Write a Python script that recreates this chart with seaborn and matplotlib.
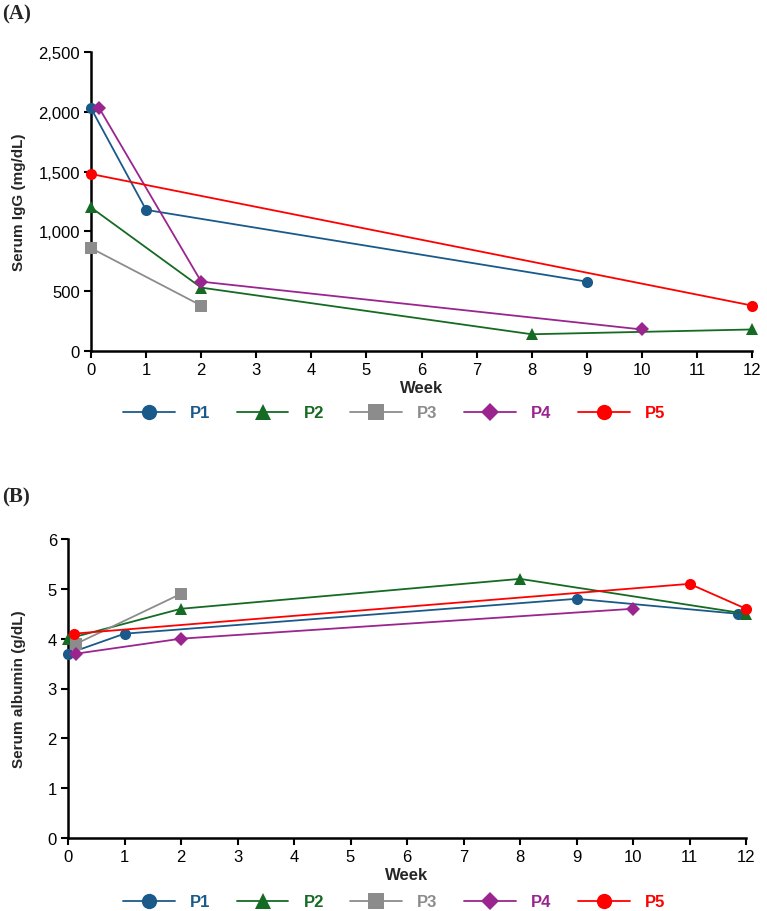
import matplotlib
matplotlib.use("Agg")
import matplotlib.pyplot as plt
import seaborn as sns
import pandas as pd
from matplotlib.lines import Line2D

patients = ["P1", "P2", "P3", "P4", "P5"]
colors = ["#1A5A8A", "#156B23", "#8C8C8C", "#9A258F", "#FF0000"]
markers = ["o", "^", "s", "D", "o"]

# Panel A: serum IgG (mg/dL)
igg_weeks = {
    "P1": [0, 1, 9],
    "P2": [0, 2, 8, 12],
    "P3": [0, 2],
    "P4": [0.15, 2, 10],
    "P5": [0, 12],
}
igg_values = {
    "P1": [2030, 1180, 580],
    "P2": [1200, 530, 140, 180],
    "P3": [860, 380],
    "P4": [2030, 580, 180],
    "P5": [1480, 380],
}

# Panel B: serum albumin (g/dL)
alb_weeks = {
    "P1": [0, 1, 9, 11.85],
    "P2": [0, 2, 8, 12],
    "P3": [0.15, 2],
    "P4": [0.15, 2, 10],
    "P5": [0.1, 11, 12],
}
alb_values = {
    "P1": [3.7, 4.1, 4.8, 4.5],
    "P2": [4.0, 4.6, 5.2, 4.5],
    "P3": [3.9, 4.9],
    "P4": [3.7, 4.0, 4.6],
    "P5": [4.1, 5.1, 4.6],
}

sns.set_theme(style="white")
plt.rcParams["font.family"] = ["Liberation Sans", "DejaVu Sans"]


def make_df(weeks, values):
    rows = []
    for p in patients:
        for i, (w, v) in enumerate(zip(weeks[p], values[p])):
            rows.append({"patient": p, "week": w, "value": v, "order": i})
    return pd.DataFrame(rows)


fig = plt.figure(figsize=(7.67, 9.12), dpi=100)
W, H = 767, 912
axA = fig.add_axes([91 / W, 1 - 352 / H, (752 - 91) / W, (352 - 53) / H])
axB = fig.add_axes([68 / W, 1 - 839 / H, (746 - 68) / W, (839 - 540) / H])

palette = dict(zip(patients, colors))
mk = dict(zip(patients, markers))


def draw(ax, df, ylabel, ylim, yticks, yfmt, leg_y, ylab_x):
    for p in patients:
        sub = df[df.patient == p]
        sns.lineplot(data=sub, x="week", y="value", color=palette[p], marker=mk[p],
                     markersize=8 if mk[p] != "D" else 7, markeredgewidth=0,
                     linewidth=1.3, sort=False, ax=ax, legend=False, zorder=3)
    ax.set_xlim(0, 12)
    ax.set_ylim(*ylim)
    ax.set_xticks(range(0, 13))
    ax.set_yticks(yticks)
    ax.set_yticklabels([yfmt(v) for v in yticks])
    ax.set_xlabel("Week", fontsize=12, fontweight="bold", labelpad=2)
    ax.set_ylabel(ylabel, fontsize=11, fontweight="bold")
    ax.yaxis.set_label_coords(ylab_x, 0.5)
    for s in ["top", "right"]:
        ax.spines[s].set_visible(False)
    for s in ["left", "bottom"]:
        ax.spines[s].set_color("black")
        ax.spines[s].set_linewidth(1.8)
    ax.tick_params(axis="both", which="major", direction="out", length=5, width=1.5,
                   color="black", labelsize=12, labelcolor="black", pad=3,
                   bottom=True, left=True)
    handles = [Line2D([0], [0], color=palette[p], marker=mk[p], linewidth=1.3,
                      markersize=11 if mk[p] != "D" else 9.5, markeredgewidth=0)
               for p in patients]
    leg = fig.legend(handles, patients, loc="center", bbox_to_anchor=(394 / W, 1 - leg_y / H),
                     ncol=5, frameon=False, handlelength=3.1, handletextpad=0.9,
                     columnspacing=1.6, prop={"size": 12, "weight": "bold"})
    for t, c in zip(leg.get_texts(), colors):
        t.set_color(c)


dfA = make_df(igg_weeks, igg_values)
dfB = make_df(alb_weeks, alb_values)

draw(axA, dfA, "Serum IgG (mg/dL)", (0, 2500), [0, 500, 1000, 1500, 2000, 2500],
     lambda v: f"{v:,}", 414, (26 - 91) / (752 - 91))
draw(axB, dfB, "Serum albumin (g/dL)", (0, 6), [0, 1, 2, 3, 4, 5, 6],
     lambda v: f"{v}", 903, (26 - 68) / (746 - 68))

for ax in (axA, axB):
    for line in ax.lines:
        line.set_clip_on(False)

fig.text(2 / W, 1 - 14 / H, "(A)", fontsize=15, fontweight="bold",
         family=["Liberation Serif", "DejaVu Serif"], va="center", ha="left")
fig.text(2 / W, 1 - 497 / H, "(B)", fontsize=15, fontweight="bold",
         family=["Liberation Serif", "DejaVu Serif"], va="center", ha="left")

fig.savefig("out.png", dpi=100, facecolor="white")
